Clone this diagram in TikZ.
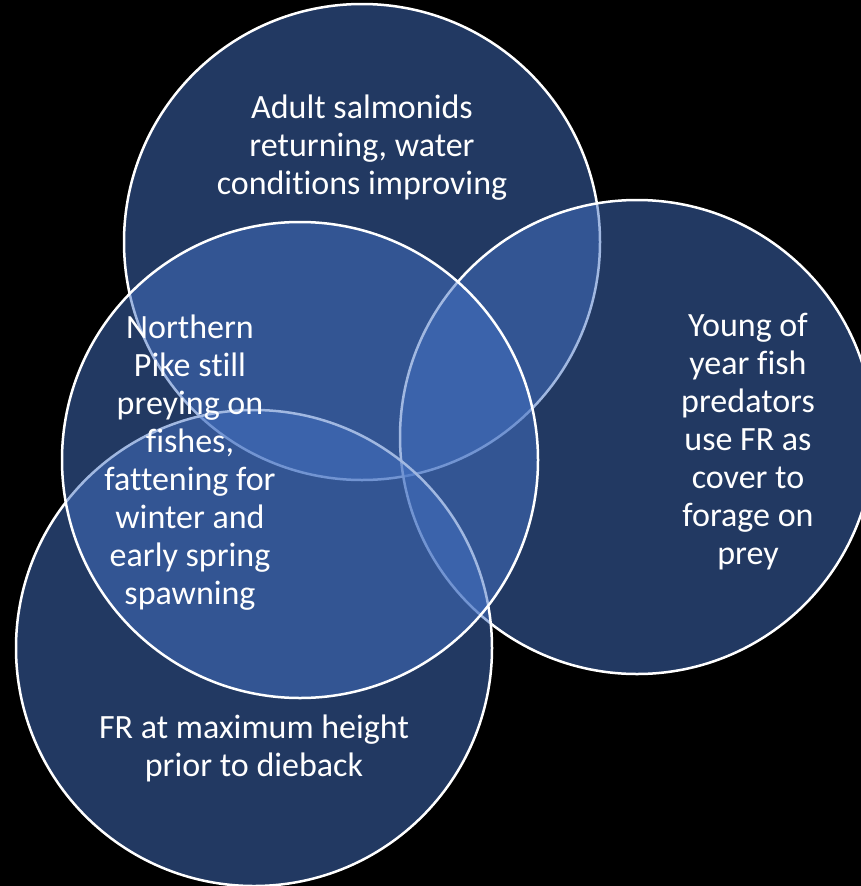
\documentclass[tikz,border=0pt]{standalone}
\usepackage{fontspec}
\setmainfont{Carlito}[RawFeature={-liga;-dlig;-clig}]
\definecolor{vennblue}{HTML}{4472C4}
\tikzset{
  venn/.style={fill=vennblue, fill opacity=0.5, draw=white, draw opacity=1, line width=2.5pt},
  lbl/.style={text=white, align=center, font=\fontsize{34}{38}\selectfont, inner sep=0pt}
}
\begin{document}
\begin{tikzpicture}[x=1pt,y=-1pt]
\fill[black] (0,0) rectangle (861,886);
\useasboundingbox (0,0) rectangle (861,886);
\begin{scope}
\clip (0,0) rectangle (861,886);
\path[venn] (362,242) circle[radius=238] coordinate (ctop);
\path[venn] (637,437) circle[radius=237] coordinate (cright);
\path[venn] (254,648) circle[radius=238] coordinate (cbottom);
\path[venn] (300,460) circle[radius=238] coordinate (cleft);
\end{scope}
\node[lbl] (ttop) at (362,148) {Adult salmonids\\returning, water\\conditions improving};
\node[lbl] (tright) at (748,442) {Young of\\year fish\\predators\\use FR as\\cover to\\forage on\\prey};
\node[lbl] (tleft) at (190,463) {Northern\\Pike still\\preying on\\fishes,\\fattening for\\winter and\\early spring\\spawning};
\node[lbl] (tbottom) at (254,748) {FR at maximum height\\prior to dieback};
\end{tikzpicture}
\end{document}
